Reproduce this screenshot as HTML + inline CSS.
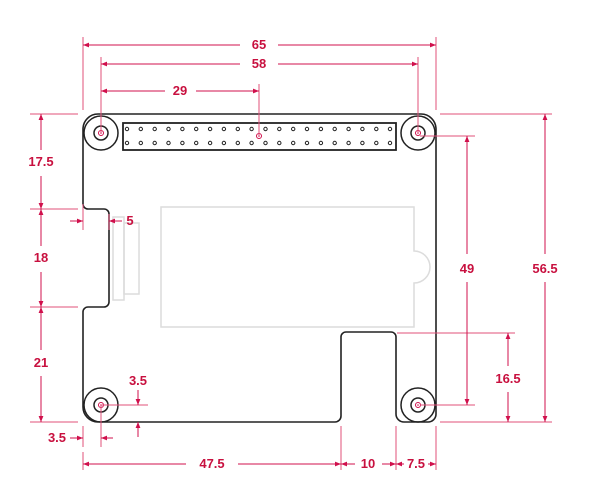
<!DOCTYPE html>
<html><head><style>html,body{margin:0;padding:0;background:#fff}svg{display:block}</style></head>
<body>
<svg width="600" height="500" viewBox="0 0 600 500" xmlns="http://www.w3.org/2000/svg">
<defs>
<marker id="a" viewBox="0 0 10 10" refX="10" refY="5" markerWidth="6" markerHeight="6" orient="auto-start-reverse"><path d="M0,1 L10,5 L0,9 z" fill="#d0104c"/></marker>
</defs>
<!-- board -->
<path d="M98,114 H421 A15,15 0 0 1 436,129 V414 A8,8 0 0 1 428,422 H404 A8,8 0 0 1 396,414 V337 A5,5 0 0 0 391,332 H346 A5,5 0 0 0 341,337 V416 A6,6 0 0 1 335,422 H98 A15,15 0 0 1 83,407 V312 A5,5 0 0 1 88,307 H104 A5,5 0 0 0 109,302 V214 A5,5 0 0 0 104,209 H88 A5,5 0 0 1 83,204 V129 A15,15 0 0 1 98,114 Z" fill="#fff" stroke="#222" stroke-width="1.6"/>
<!-- gray parts -->
<g fill="none" stroke="#dcdcdc" stroke-width="1.5">
<path d="M161,207 H414 V251 A16,16 0 0 1 414,283 V327 H161 Z"/>
<rect x="113" y="217" width="11" height="83"/>
<rect x="124" y="223" width="15" height="71"/>
</g>
<g fill="none" stroke="#222" stroke-width="1.5">
<circle cx="101" cy="133" r="17"/><circle cx="101" cy="133" r="7"/>
<circle cx="418" cy="133" r="17"/><circle cx="418" cy="133" r="7"/>
<circle cx="101" cy="405" r="17"/><circle cx="101" cy="405" r="7"/>
<circle cx="418" cy="405" r="17"/><circle cx="418" cy="405" r="7"/>
<rect x="123" y="123" width="273" height="27" stroke-width="1.8"/>
</g>
<g fill="none" stroke="#222" stroke-width="1">
<circle cx="127" cy="129" r="1.7"/><circle cx="127" cy="143" r="1.7"/>
<circle cx="140.8" cy="129" r="1.7"/><circle cx="140.8" cy="143" r="1.7"/>
<circle cx="154.7" cy="129" r="1.7"/><circle cx="154.7" cy="143" r="1.7"/>
<circle cx="168.5" cy="129" r="1.7"/><circle cx="168.5" cy="143" r="1.7"/>
<circle cx="182.4" cy="129" r="1.7"/><circle cx="182.4" cy="143" r="1.7"/>
<circle cx="196.2" cy="129" r="1.7"/><circle cx="196.2" cy="143" r="1.7"/>
<circle cx="210.1" cy="129" r="1.7"/><circle cx="210.1" cy="143" r="1.7"/>
<circle cx="223.9" cy="129" r="1.7"/><circle cx="223.9" cy="143" r="1.7"/>
<circle cx="237.8" cy="129" r="1.7"/><circle cx="237.8" cy="143" r="1.7"/>
<circle cx="251.6" cy="129" r="1.7"/><circle cx="251.6" cy="143" r="1.7"/>
<circle cx="265.5" cy="129" r="1.7"/><circle cx="265.5" cy="143" r="1.7"/>
<circle cx="279.3" cy="129" r="1.7"/><circle cx="279.3" cy="143" r="1.7"/>
<circle cx="293.2" cy="129" r="1.7"/><circle cx="293.2" cy="143" r="1.7"/>
<circle cx="307" cy="129" r="1.7"/><circle cx="307" cy="143" r="1.7"/>
<circle cx="320.9" cy="129" r="1.7"/><circle cx="320.9" cy="143" r="1.7"/>
<circle cx="334.7" cy="129" r="1.7"/><circle cx="334.7" cy="143" r="1.7"/>
<circle cx="348.6" cy="129" r="1.7"/><circle cx="348.6" cy="143" r="1.7"/>
<circle cx="362.4" cy="129" r="1.7"/><circle cx="362.4" cy="143" r="1.7"/>
<circle cx="376.3" cy="129" r="1.7"/><circle cx="376.3" cy="143" r="1.7"/>
<circle cx="390" cy="129" r="1.7"/><circle cx="390" cy="143" r="1.7"/>
</g>
<g fill="none" stroke="#d0104c" stroke-width="1">
<circle cx="101" cy="133" r="2.5"/><circle cx="418" cy="133" r="2.5"/>
<circle cx="101" cy="405" r="2.5"/><circle cx="418" cy="405" r="2.5"/>
<circle cx="259" cy="136" r="2.5"/>
</g>
<g fill="#d0104c"><circle cx="101" cy="133" r="0.8"/><circle cx="418" cy="133" r="0.8"/><circle cx="101" cy="405" r="0.8"/><circle cx="418" cy="405" r="0.8"/><circle cx="259" cy="136" r="0.8"/></g>
<g stroke="#e0507a" stroke-width="1" fill="none">
<path d="M83,37 V110 M436,37 V110 M101,57 V133 M418,57 V133 M259,84 V136"/>
<path d="M30,114 H78 M30,209 H78 M30,307 H78 M30,422 H78"/>
<path d="M83,204 V230 M109,214 V230"/>
<path d="M420,136 H475 M420,405 H475 M440,114 H552 M440,422 H552 M397,333 H515"/>
<path d="M101,405 H148 M101,405 V447 M83,426 V447"/>
<path d="M341,426 V470 M396,426 V470 M436,426 V470 M83,452 V470"/>
</g>
<g stroke="#d0104c" stroke-width="1" fill="none">
<path d="M278,45 H436" marker-end="url(#a)"/>
<path d="M83,45 H240" marker-start="url(#a)"/>
<path d="M101,64 H240" marker-start="url(#a)"/>
<path d="M278,64 H418" marker-end="url(#a)"/>
<path d="M101,91 H165" marker-start="url(#a)"/>
<path d="M196,91 H259" marker-end="url(#a)"/>
<path d="M41,150 V114" marker-end="url(#a)"/>
<path d="M41,176 V209" marker-end="url(#a)"/>
<path d="M41,246 V209" marker-end="url(#a)"/>
<path d="M41,272 V307" marker-end="url(#a)"/>
<path d="M41,350 V307" marker-end="url(#a)"/>
<path d="M41,376 V422" marker-end="url(#a)"/>
<path d="M70,221 H83" marker-end="url(#a)"/>
<path d="M122,221 H109" marker-end="url(#a)"/>
<path d="M467,254 V136" marker-end="url(#a)"/>
<path d="M467,282 V405" marker-end="url(#a)"/>
<path d="M545,254 V114" marker-end="url(#a)"/>
<path d="M545,282 V422" marker-end="url(#a)"/>
<path d="M508,366 V333" marker-end="url(#a)"/>
<path d="M508,392 V422" marker-end="url(#a)"/>
<path d="M138,390 V405" marker-end="url(#a)"/>
<path d="M138,437 V422" marker-end="url(#a)"/>
<path d="M70,438 H83" marker-end="url(#a)"/>
<path d="M113,438 H101" marker-end="url(#a)"/>
<path d="M83,464 H186" marker-start="url(#a)"/>
<path d="M238,464 H341" marker-end="url(#a)"/>
<path d="M341,464 H355" marker-start="url(#a)"/>
<path d="M382,464 H396" marker-end="url(#a)"/>
<path d="M396,464 H404" marker-start="url(#a)"/>
<path d="M428,464 H436" marker-end="url(#a)"/>
</g>
<g font-family="Liberation Sans Narrow, Liberation Sans, sans-serif" font-weight="bold" font-size="13" fill="#c8103f" text-anchor="middle">
<text x="259" y="49">65</text>
<text x="259" y="68">58</text>
<text x="180" y="95">29</text>
<text x="41" y="166">17.5</text>
<text x="41" y="262">18</text>
<text x="41" y="367">21</text>
<text x="130" y="225">5</text>
<text x="467" y="273">49</text>
<text x="545" y="273">56.5</text>
<text x="508" y="383">16.5</text>
<text x="138" y="385">3.5</text>
<text x="57" y="442">3.5</text>
<text x="212" y="468">47.5</text>
<text x="368" y="468">10</text>
<text x="416" y="468">7.5</text>
</g>
</svg>
</body></html>
